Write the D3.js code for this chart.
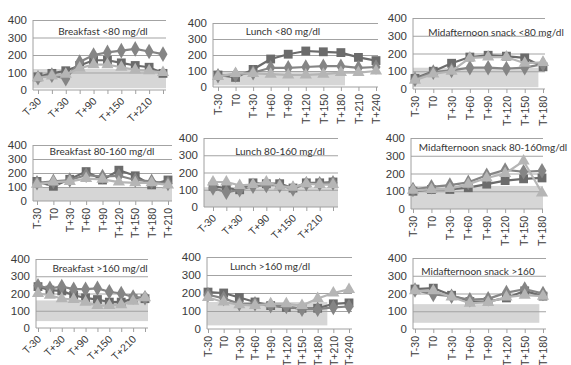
<!DOCTYPE html>
<html>
<head>
<meta charset="utf-8">
<script src="https://cdn.jsdelivr.net/npm/d3@7"></script>
<style>
  body { margin: 0; background: #fff; }
  svg { font-family: Lato, "Open Sans", sans-serif; }
</style>
</head>
<body>
<svg id="chart" width="571" height="365"></svg>
<script>
// ---- data ----
var catsLong = ["T-30", "T0", "T+30", "T+60", "T+90", "T+120", "T+150", "T+180", "T+210", "T+240"];
var catsMid = ["T-30", "T0", "T+30", "T+60", "T+90", "T+120", "T+150", "T+180", "T+210"];
var catsShort = ["T-30", "T0", "T+30", "T+60", "T+90", "T+120", "T+150", "T+180"];

var titles = [
    "Breakfast <80 mg/dl", "Lunch <80 mg/dl", "Midafternoon snack <80 mg/dl",
    "Breakfast 80-160 mg/dl", "Lunch 80-160 mg/dl", "Midafternoon snack 80-160mg/dl",
    "Breakfast >160 mg/dl", "Lunch >160 mg/dl", "Midafternoon snack >160"
];
var panelCats = [catsLong, catsLong, catsShort, catsMid, catsLong, catsShort, catsLong, catsLong, catsShort];
var yTicks = [0, 100, 200, 300, 400];

var squareVals = [
    [75, 95, 110, 140, 170, 170, 155, 140, 130, 95],
    [75, 60, 110, 175, 205, 225, 220, 215, 185, 165],
    [60, 100, 145, 180, 190, 185, 175, 125],
    [140, 105, 155, 210, 150, 220, 180, 115, 150],
    [120, 110, 100, 140, 135, 135, 110, 140, 140, 145],
    [100, 110, 110, 120, 140, 160, 170, 175],
    [240, 220, 215, 190, 175, 165, 150, 150, 170, 170],
    [205, 200, 175, 150, 130, 120, 115, 115, 140, 145],
    [225, 230, 190, 155, 155, 175, 215, 185]
];
var diamondVals = [
    [70, 85, 65, 160, 200, 215, 225, 235, 220, 205],
    [70, 75, 90, 120, 120, 125, 130, 130, 120, 125],
    [55, 95, 105, 120, 120, 115, 120, 140],
    [130, 140, 150, 185, 175, 180, 150, 140, 125],
    [110, 85, 100, 120, 125, 125, 105, 135, 135, 140],
    [110, 125, 135, 150, 190, 220, 210, 215],
    [245, 230, 240, 225, 225, 230, 210, 200, 180, 175],
    [190, 170, 140, 140, 130, 125, 110, 110, 120, 125],
    [220, 195, 185, 165, 170, 205, 225, 200]
];
var triangleVals = [
    [70, 80, 90, 125, 145, 145, 130, 115, 110, 100],
    [65, 85, 85, 80, 75, 75, 80, 90, 90, 100],
    [50, 85, 100, 175, 180, 180, 145, 150],
    [120, 135, 140, 160, 155, 135, 130, 130, 115],
    [145, 145, 125, 130, 145, 120, 115, 135, 130, 130],
    [105, 110, 115, 140, 175, 200, 270, 90],
    [200, 190, 170, 165, 150, 130, 130, 135, 155, 175],
    [175, 150, 135, 130, 140, 140, 130, 170, 200, 220],
    [215, 215, 180, 145, 150, 180, 190, 185]
];
// shaded reference range [low, high]
var bandVals = [[10, 120], [10, 100], [10, 120], [0, 100], [0, 115], [0, 130], [40, 160], [20, 150], [35, 140]];

// ---- layout (pixels) ----
var layout = [
    {left: 33, right: 166, p0: 38, p1: 163, top: 20, bottom: 90, rot: -45, every: 2, tx: 103, ty: 35, bandEnd: 1},
    {left: 213, right: 378, p0: 218, p1: 376, top: 23, bottom: 87, rot: -90, every: 1, tx: 283, ty: 35, bandEnd: 0.8},
    {left: 413, right: 545, p0: 415, p1: 543, top: 18, bottom: 89, rot: -90, every: 1, tx: 496, ty: 36, bandEnd: 0.95},
    {left: 33, right: 172, p0: 37, p1: 168, top: 145, bottom: 201, rot: -90, every: 1, tx: 102, ty: 155, bandEnd: 1},
    {left: 204, right: 338, p0: 213, p1: 333, top: 138, bottom: 207, rot: -45, every: 2, tx: 280, ty: 155, bandEnd: 1},
    {left: 411, right: 543, p0: 413, p1: 542, top: 138, bottom: 209, rot: -90, every: 1, tx: 493, ty: 151, bandEnd: 1},
    {left: 36, right: 148, p0: 38, p1: 145, top: 259, bottom: 328, rot: -45, every: 2, tx: 100, ty: 272, bandEnd: 1},
    {left: 207, right: 352, p0: 208, p1: 349, top: 257, bottom: 329, rot: -90, every: 1, tx: 270, ty: 270, bandEnd: 0.83},
    {left: 413, right: 546, p0: 415, p1: 543, top: 258, bottom: 329, rot: -90, every: 1, tx: 478, ty: 275, bandEnd: 0.95}
];

var seriesStyle = [
    {vals: squareVals, color: "#6b6b6b", symbol: d3.symbolSquare, size: 78},
    {vals: diamondVals, color: "#858585", symbol: d3.symbolDiamond, size: 70},
    {vals: triangleVals, color: "#b5b5b5", symbol: d3.symbolTriangle, size: 64}
];

var svg = d3.select("#chart");

layout.forEach(function (L, i) {
    var cats = panelCats[i];
    var g = svg.append("g");

    var y = d3.scaleLinear().domain([0, 400]).range([L.bottom, L.top]);
    var x = d3.scalePoint().domain(cats).range([L.p0, L.p1]);
    var w = L.right - L.left;

    // reference band
    g.append("rect")
        .attr("x", L.left)
        .attr("y", y(bandVals[i][1]))
        .attr("width", w * L.bandEnd)
        .attr("height", y(bandVals[i][0]) - y(bandVals[i][1]))
        .attr("fill", "#d6d6d6");

    // y axis with gridlines
    var ya = g.append("g")
        .attr("transform", "translate(" + L.left + ",0)")
        .call(d3.axisLeft(y).tickValues(yTicks).tickSize(-w).tickPadding(6));
    ya.select(".domain").remove();
    ya.selectAll(".tick line")
        .attr("stroke", function (d) { return d === 0 ? "none" : "#a3a3a3"; });
    ya.selectAll(".tick text")
        .attr("fill", "#3a3a3a")
        .attr("font-size", 11.5);

    // x axis
    var xa = g.append("g")
        .attr("transform", "translate(0," + L.bottom + ")")
        .call(d3.axisBottom(x).tickSize(4).tickFormat(function (d, k) {
            return k % L.every === 0 ? d : "";
        }));
    xa.select(".domain").remove();
    xa.selectAll(".tick line").attr("stroke", "#a0a0a0");
    var xt = xa.selectAll(".tick text")
        .attr("fill", "#3a3a3a")
        .attr("font-size", 10.5)
        .attr("text-anchor", "end")
        .attr("dy", "0.35em");
    if (L.rot === -90) {
        xt.attr("transform", "rotate(-90)").attr("x", -7).attr("y", 0);
    } else {
        xt.attr("transform", "rotate(-45)").attr("x", -6).attr("y", 7);
    }

    // axis lines
    g.append("line")
        .attr("x1", L.left).attr("x2", L.right)
        .attr("y1", L.bottom).attr("y2", L.bottom)
        .attr("stroke", "#a0a0a0");
    g.append("line")
        .attr("x1", L.left).attr("x2", L.left)
        .attr("y1", L.top).attr("y2", L.bottom)
        .attr("stroke", "#a0a0a0");

    // title
    g.append("text")
        .attr("x", L.tx)
        .attr("y", L.ty)
        .attr("text-anchor", "middle")
        .attr("font-size", 10)
        .attr("fill", "#333")
        .text(titles[i]);

    // series
    seriesStyle.forEach(function (s) {
        var vals = s.vals[i];
        var line = d3.line()
            .x(function (d, k) { return x(cats[k]); })
            .y(function (d) { return y(d); });
        g.append("path")
            .datum(vals)
            .attr("d", line)
            .attr("fill", "none")
            .attr("stroke", s.color)
            .attr("stroke-width", 2.2);
        g.append("g").selectAll("path")
            .data(vals)
            .enter().append("path")
            .attr("transform", function (d, k) {
                return "translate(" + x(cats[k]) + "," + y(d) + ")";
            })
            .attr("d", d3.symbol().type(s.symbol).size(s.size))
            .attr("fill", s.color);
    });
});
</script>
</body>
</html>
